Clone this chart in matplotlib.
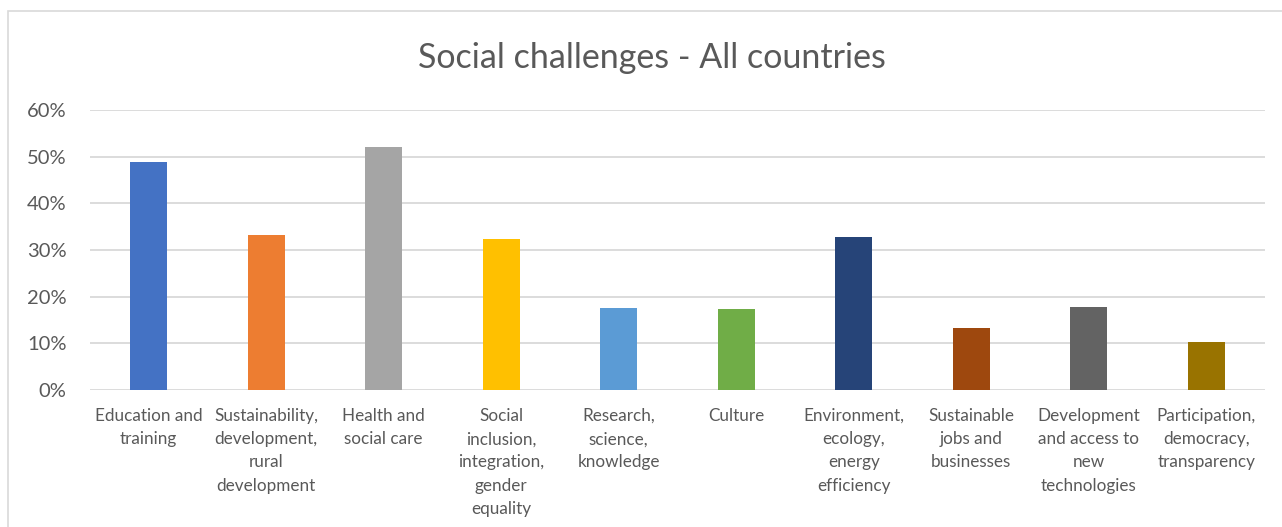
import matplotlib.pyplot as plt
from matplotlib.patches import Rectangle
from matplotlib.ticker import PercentFormatter

plt.rcParams['font.family'] = ['Lato', 'DejaVu Sans']

categories = ["Education and\ntraining",
              "Sustainability,\ndevelopment,\nrural\ndevelopment",
              "Health and\nsocial care",
              "Social\ninclusion,\nintegration,\ngender\nequality",
              "Research,\nscience,\nknowledge",
              "Culture",
              "Environment,\necology,\nenergy\nefficiency",
              "Sustainable\njobs and\nbusinesses",
              "Development\nand access to\nnew\ntechnologies",
              "Participation,\ndemocracy,\ntransparency"]
values = [48.9, 33.2, 52.1, 32.4, 17.6, 17.4, 32.8, 13.3, 17.8, 10.3]
colors = ["#4472C4", "#ED7D31", "#A5A5A5", "#FFC000", "#5B9BD5",
          "#70AD47", "#264478", "#9E480E", "#636363", "#997300"]
yticks = [0, 10, 20, 30, 40, 50, 60]

fig = plt.figure(figsize=(12.82, 5.27), dpi=100)
ax = fig.add_axes([90 / 1282, 1 - 390 / 527, 1175 / 1282, 280 / 527])

# chart frame, only left and top edges fall inside the picture
fig.patches.append(Rectangle((8 / 1282, -0.1), 1.2, 1.1 - 11 / 527, transform=fig.transFigure,
                             fill=False, edgecolor="#D9D9D9", linewidth=1.2))

x = range(len(categories))
ax.bar(x, values, width=0.315, color=colors, zorder=3)

ax.set_xlim(-0.5, len(categories) - 0.5)
ax.set_ylim(0, 60)
ax.set_yticks(yticks)
ax.yaxis.set_major_formatter(PercentFormatter(decimals=0))
ax.grid(axis="y", color="#D9D9D9", linewidth=1.3, zorder=0)
for s in ax.spines.values():
    s.set_visible(False)
ax.tick_params(axis="both", length=0, colors="#595959")
ax.tick_params(axis="y", labelsize=14.5, pad=17)
ax.set_xticks(list(x))
ax.set_xticklabels(categories, fontsize=12.3, linespacing=1.55)
ax.tick_params(axis="x", pad=13)

fig.text(652 / 1282, 1 - 58 / 527, "Social challenges - All countries",
         ha="center", va="center", fontsize=24.5, color="#595959")

fig.savefig("out.png", dpi=100)
